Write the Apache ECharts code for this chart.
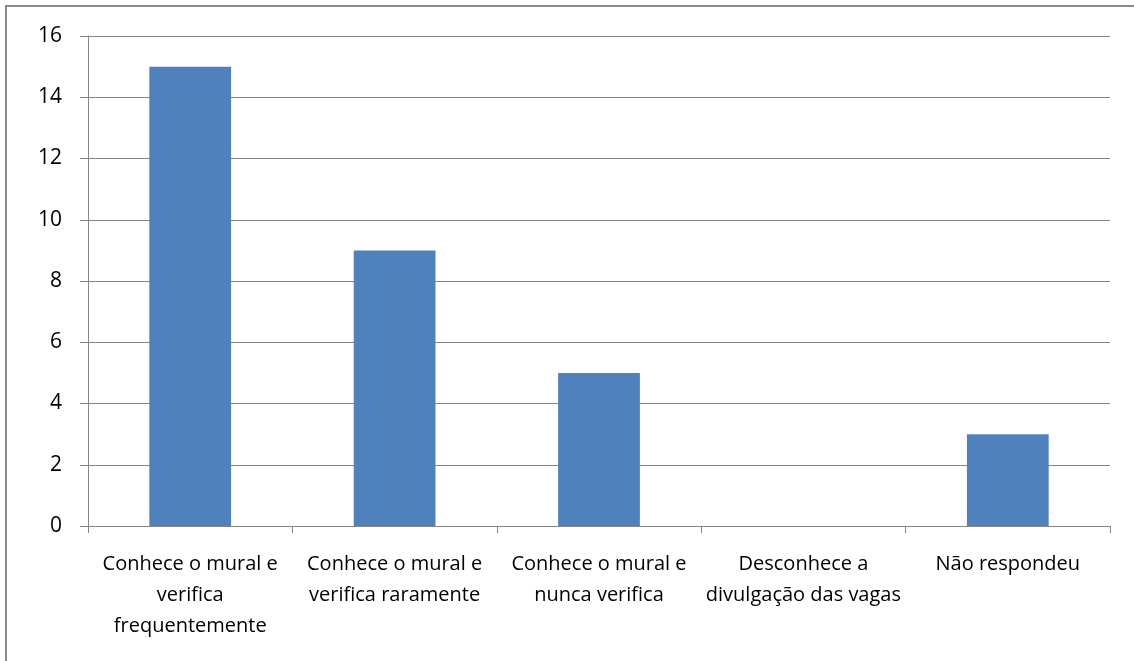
<!DOCTYPE html>
<html>
<head>
<meta charset="utf-8">
<script src="https://cdn.jsdelivr.net/npm/echarts@6/dist/echarts.min.js"></script>
<style>
  html, body { margin: 0; padding: 0; background: #fff; }
  #chart { width: 1134px; height: 661px; }
</style>
</head>
<body>
<div id="chart"></div>
<script>
var categories = [
  'Conhece o mural e\nverifica\nfrequentemente',
  'Conhece o mural e\nverifica raramente',
  'Conhece o mural e\nnunca verifica',
  'Desconhece a\ndivulgação das vagas',
  'Não respondeu'
];
var values = [15, 9, 5, 0, 3];
var yTicks = [0, 2, 4, 6, 8, 10, 12, 14, 16];

var chart = echarts.init(document.getElementById('chart'));
var axisColor = '#868686';
var font = '"Open Sans", "Noto Sans", sans-serif';

chart.setOption({
  animation: false,
  graphic: [{
    type: 'rect',
    shape: { x: 6, y: 6, width: 1150, height: 700 },
    style: { fill: 'none', stroke: '#898989', lineWidth: 2 }
  }],
  grid: { left: 88, right: 24, top: 36, bottom: 135 },
  xAxis: {
    type: 'category',
    data: categories,
    axisLine: { lineStyle: { color: axisColor, width: 1 } },
    axisTick: { show: true, length: 7, lineStyle: { color: axisColor } },
    axisLabel: {
      interval: 0,
      margin: 23,
      color: '#000',
      fontFamily: font,
      fontSize: 20,
      lineHeight: 31
    },
    splitLine: { show: false }
  },
  yAxis: {
    type: 'value',
    min: yTicks[0],
    max: yTicks[yTicks.length - 1],
    interval: 2,
    axisLine: { show: true, lineStyle: { color: axisColor, width: 1 } },
    axisTick: { show: true, length: 8, lineStyle: { color: axisColor } },
    axisLabel: {
      margin: 26,
      color: '#000',
      fontFamily: font,
      fontSize: 21
    },
    splitLine: { show: true, lineStyle: { color: axisColor, width: 1 } }
  },
  series: [{
    type: 'bar',
    data: values,
    barCategoryGap: '60%',
    itemStyle: { color: '#4F81BD' }
  }]
});
</script>
</body>
</html>
